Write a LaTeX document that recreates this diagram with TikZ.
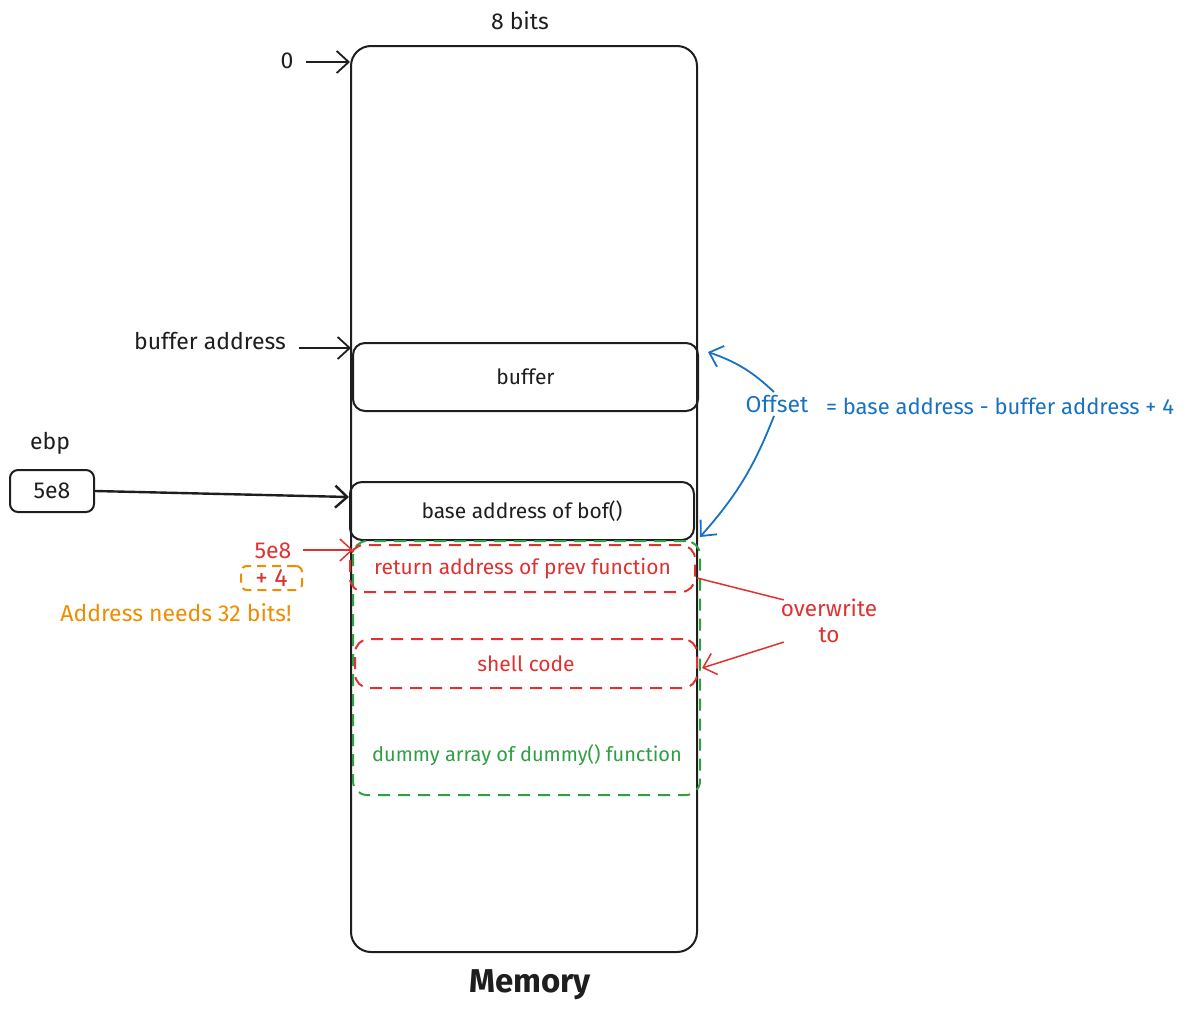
\documentclass[tikz,border=0pt]{standalone}
\usepackage{fontspec}
\setmainfont{Fira Sans}
\usetikzlibrary{arrows.meta,positioning}
\definecolor{ink}{HTML}{1E1E1E}
\definecolor{exred}{HTML}{E03131}
\definecolor{exgreen}{HTML}{2F9E44}
\definecolor{exblue}{HTML}{1971C2}
\definecolor{exorange}{HTML}{F08C00}
\begin{document}
\begin{tikzpicture}[x=1pt,y=-1pt,
  box/.style={draw=ink,line width=2pt,rounded corners=12pt,inner sep=0pt},
  dashbox/.style={line width=2pt,dash pattern=on 12pt off 8pt,rounded corners=14pt,inner sep=0pt},
  arr/.style={-{Straight Barb[length=12pt,width=22pt]},line width=1.8pt},
  lbl/.style={font=\fontsize{23}{27}\selectfont,text=ink,inner sep=1pt},
  inlbl/.style={font=\fontsize{21}{25}\selectfont,text=ink,inner sep=1pt}]
\useasboundingbox (0,0) rectangle (1186,1015);
		% memory column
		\node[box,rounded corners=20pt,minimum width=346pt,minimum height=906pt] (mem) at (524,499) {};
		\node[lbl] (bits) at (520,21) {8 bits};
		\node[lbl,font=\fontsize{33}{38}\selectfont\bfseries] (memlbl) at (530,985) {Memory};
		% cells
		\node[box,minimum width=345pt,minimum height=68pt,inlbl] (buf) at (525.5,377) {buffer};
		\node[box,minimum width=344pt,minimum height=58pt,inlbl] (base) at (522,511) {base address of bof()};
		\node[dashbox,draw=exgreen,minimum width=347pt,minimum height=254pt] (dummy) at (526.5,668) {};
		\node[dashbox,draw=exred,minimum width=345pt,minimum height=47pt,inlbl,text=exred] (ret) at (522.5,568.5) {return address of prev function};
		\node[dashbox,draw=exred,minimum width=342pt,minimum height=49pt,inlbl,text=exred] (shell) at (526,663.5) {shell code};
		\node[inlbl,text=exgreen,font=\fontsize{20}{24}\selectfont] (dummylbl) at (527,755) {dummy array of dummy() function};
		% left side
		\node[lbl] (zero) at (287,61) {0};
		\node[lbl] (bufaddr) at (210,341) {buffer address};
		\node[lbl] (ebp) at (50,443) {ebp};
		\node[box,rounded corners=8pt,minimum width=84pt,minimum height=42pt,lbl] (ebpbox) at (52,491) {5e8};
		\node[lbl,text=exred] (redaddr) at (273,551) {5e8};
		\node[draw=exorange,line width=2pt,rounded corners=6pt,dash pattern=on 9pt off 6pt,inner sep=0pt,minimum width=61pt,minimum height=24pt,text=exred,font=\fontsize{25}{28}\selectfont] (plusfour) at (271.5,578) {+ 4};
		\node[lbl,text=exorange] (need) at (176,613) {Address needs 32 bits!};
		\coordinate (zeroin) at (350,62);
		\coordinate (bufin) at (351,348);
		\coordinate (basein) at (349,497);
		\coordinate (retin) at (353,550);
		\draw[arr,ink] (zero) ++(19,1) -- (zeroin);
		\draw[arr,ink] (bufaddr.east |- bufin) ++(12,0) -- (bufin);
		\draw[arr,ink,line width=2.4pt] (ebpbox.east) -- (basein);
		\draw[arr,exred,line width=1.5pt] (redaddr.east |- retin) ++(10,0) -- (retin);
		% right side
		\node[lbl,text=exblue] (offset) at (777,404) {Offset};
		\node[lbl,text=exblue,font=\fontsize{22}{26}\selectfont] (formula) at (1000,406) {= base address - buffer address + 4};
		\node[lbl,text=exred,align=center,font=\fontsize{22.5}{26}\selectfont] (over) at (829,621) {overwrite\\to};
		\coordinate (bufout) at (708,352);
		\coordinate (baseout) at (700,537);
		\coordinate (retout) at (697,578);
		\coordinate (shellout) at (702,668);
		\draw[arr,exblue] (offset.north) ++(-3,-2) to[bend right=12] (bufout);
		\draw[arr,exblue] (offset.south) ++(-3,2) to[bend left=10] (baseout);
		\draw[exred,line width=1.5pt] (over.north west) ++(4,2) -- (retout);
		\draw[arr,exred,line width=1.5pt] (over.south west) ++(4,-2) -- (shellout);
\end{tikzpicture}
\end{document}
